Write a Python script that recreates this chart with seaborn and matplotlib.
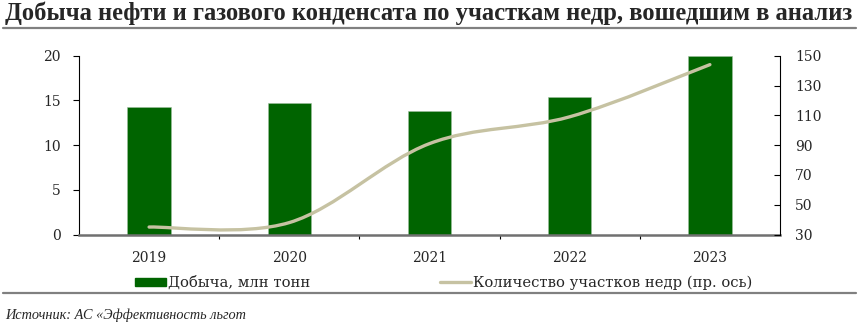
import matplotlib
matplotlib.use("Agg")
import matplotlib.pyplot as plt
import seaborn as sns
import pandas as pd
import numpy as np
from matplotlib.path import Path
from matplotlib.patches import PathPatch, Patch
from matplotlib.lines import Line2D

years = ["2019", "2020", "2021", "2022", "2023"]
production = [14.25, 14.66, 13.77, 15.4, 20.0]
plots_count = [35, 38, 91, 109, 144]

title = "Добыча нефти и газового конденсата по участкам недр, вошедшим в анализ"
bar_label = "Добыча, млн тонн"
line_label = "Количество участков недр (пр. ось)"
source = "Источник: АС «Эффективность льгот"

sns.set_theme(style="white")
plt.rcParams["font.family"] = ["DejaVu Serif"]

GREEN = "#006400"
KHAKI = "#C6C2A2"

fig = plt.figure(figsize=(8.59, 3.24), dpi=100)
ax = fig.add_axes([79/859, 1-234.5/324, (780-79)/859, (234.5-55.7)/324])

df = pd.DataFrame({"year": years, "value": production})
sns.barplot(data=df, x="year", y="value", color=GREEN, width=0.31, ax=ax,
            saturation=1, edgecolor="#9fbf9f", linewidth=0.4)
ax.set_xlim(-0.5, 4.5)
ax.set_ylim(0, 20)
ax.set_yticks([0, 5, 10, 15, 20])
ax.set_xlabel("")
ax.set_ylabel("")

for s in ["top", "right"]:
    ax.spines[s].set_visible(False)
ax.spines["left"].set_color("black")
ax.spines["left"].set_linewidth(0.8)
ax.spines["bottom"].set_color("#707070")
ax.spines["bottom"].set_linewidth(1.8)

ax.tick_params(axis="y", which="major", direction="out", length=4, width=0.8,
               color="black", labelsize=10, left=True, pad=9)
ax.tick_params(axis="x", which="major", length=0, labelsize=10, pad=12)
ax.set_xticks([0.5, 1.5, 2.5, 3.5], minor=True)
ax.tick_params(axis="x", which="minor", direction="out", length=3, width=0.8,
               color="black", bottom=True)

ax2 = ax.twinx()
ax2.set_ylim(30, 150)
ax2.set_yticks([30, 50, 70, 90, 110, 130, 150])
for s in ["top", "left", "bottom"]:
    ax2.spines[s].set_visible(False)
ax2.spines["right"].set_color("black")
ax2.spines["right"].set_linewidth(0.8)
ax2.tick_params(axis="y", direction="in", length=4, width=0.8, color="black",
                labelsize=10, right=True, pad=11)
ax2.grid(False)
ax.grid(False)

# smoothed (Excel-like) line through the data points
xs = np.arange(len(plots_count), dtype=float)
ys = np.array(plots_count, dtype=float)
verts = [(xs[0], ys[0])]
codes = [Path.MOVETO]
n = len(xs)
for i in range(n - 1):
    p0 = np.array([xs[max(i-1, 0)], ys[max(i-1, 0)]])
    p1 = np.array([xs[i], ys[i]])
    p2 = np.array([xs[i+1], ys[i+1]])
    p3 = np.array([xs[min(i+2, n-1)], ys[min(i+2, n-1)]])
    c1 = p1 + (p2 - p0) / 6
    c2 = p2 - (p3 - p1) / 6
    verts += [tuple(c1), tuple(c2), tuple(p2)]
    codes += [Path.CURVE4] * 3
ax2.add_patch(PathPatch(Path(verts, codes), fill=False, edgecolor=KHAKI,
                        linewidth=2.4, capstyle="round"))

handles = [Patch(facecolor=GREEN, edgecolor=GREEN),
           Line2D([0], [0], color=KHAKI, linewidth=2.4)]
fig.legend(handles, [bar_label, line_label], loc="center left",
           bbox_to_anchor=(135/859, 1-283/324), ncol=2, frameon=False,
           fontsize=10.6, handlelength=2.1, handleheight=0.55, handletextpad=0.15,
           columnspacing=8.8, borderaxespad=0, borderpad=0)

fig.text(5/859, 1-13/324, title, fontsize=17.7, fontweight="bold",
         family=["Liberation Serif"], va="center", ha="left")
fig.add_artist(Line2D([0.004, 0.996], [1-28/324, 1-28/324], color="#808080",
                      linewidth=1.6, transform=fig.transFigure))
fig.add_artist(Line2D([0.004, 0.996], [1-293/324, 1-293/324], color="#808080",
                      linewidth=1.6, transform=fig.transFigure))
fig.text(5/859, 1-315/324, source, fontsize=10.3, fontstyle="italic",
         family=["Liberation Serif"], va="center", ha="left")

fig.savefig("out.png", dpi=100)
